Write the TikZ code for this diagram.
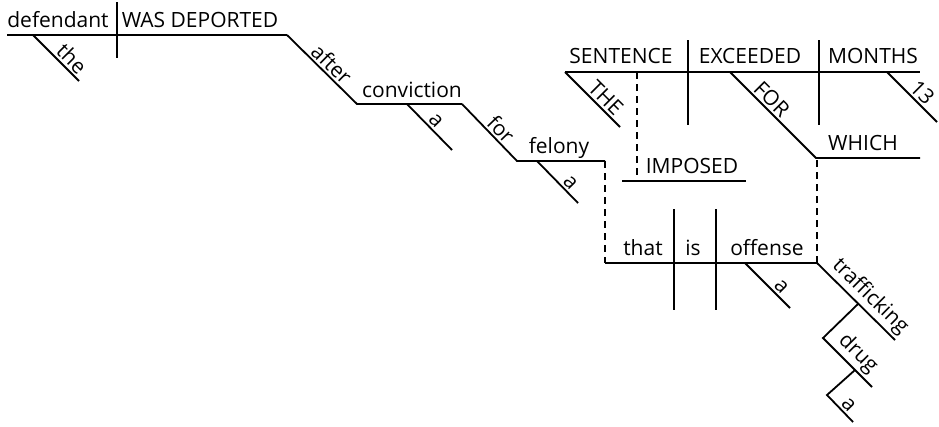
\documentclass[tikz,border=0pt]{standalone}
\usepackage{fontspec}
\setmainfont{Open Sans}
\tikzset{word/.style = {anchor=base, inner sep=0, font=\fontsize{21}{25}\selectfont}}
\tikzset{slant/.style = {sloped, above, inner sep=2, font=\fontsize{21}{25}\selectfont}}
\tikzset{dashline/.style = {dash pattern=on 7pt off 5pt}}

\begin{document}
\begin{tikzpicture}[x=1pt, y=-1pt, line width=1.8pt]
  \useasboundingbox (0,0) rectangle (939,426);

  % main clause
  \draw (7,35) -- (287,35);
  \draw (117,2) -- (117,58);
  \node [word] (defendant) at (58,27) {defendant};
  \node [word] (deported) at (200,27) {WAS DEPORTED};
  \draw (33,35) -- node [slant, pos=0.68] (the) {the} (79,81);

  \draw (287,35) -- node [slant, pos=0.53] (after) {after} (357,104) -- (462,104);
  \node [word] (conviction) at (412,97) {conviction};
  \draw (407,104) -- node [slant, pos=0.5] (a1) {a} (452,150);
  \draw (462,104) -- node [slant, pos=0.57] (for) {for} (517,161) -- (605,161);
  \node [word] (felony) at (559,153) {felony};
  \draw (537,161) -- node [slant, pos=0.66] (a2) {a} (578,203);
  \draw [dashline] (605,161) -- (605,263);

  % relative clause
  \draw (605,263) -- (817,263);
  \draw (674,209) -- (674,310);
  \draw (716,209) -- (716,310);
  \node [word] (that) at (643,255) {that};
  \node [word] (is) at (693,255) {is};
  \node [word] (offense) at (767,255) {offense};
  \draw (745,263) -- node [slant, pos=0.67] (a3) {a} (790,308);
  \draw (817,263) -- node [slant, pos=0.56] (trafficking) {trafficking} (895,340);
  \draw (858,304) -- (823,338) -- node [slant, pos=0.52] (drug) {drug} (872,387);
  \draw (855,370) -- (827,395) -- node [slant, pos=0.58] (a4) {a} (853,422);
  \draw [dashline] (817,263) -- (817,158);

  % clause in capitals
  \draw (565,72) -- (920,72);
  \draw (688,40) -- (688,125);
  \draw (819,40) -- (819,125);
  \node [word] (sentence) at (621,63) {SENTENCE};
  \node [word] (exceeded) at (750,63) {EXCEEDED};
  \node [word] (months) at (873,63) {MONTHS};
  \draw (565,72) -- node [slant, pos=0.61] (THE) {THE} (620,127);
  \draw (887,72) -- node [slant, pos=0.56] (thirteen) {13} (937,122);
  \draw (730,72) -- node [slant, pos=0.4] (FOR) {FOR} (816,158) -- (920,158);
  \node [word] (which) at (863,150) {WHICH};
  \draw [dashline] (637,72) -- (637,177);
  \draw (622,181) -- (746,181);
  \node [word] (imposed) at (692,173) {IMPOSED};
\end{tikzpicture}
\end{document}
